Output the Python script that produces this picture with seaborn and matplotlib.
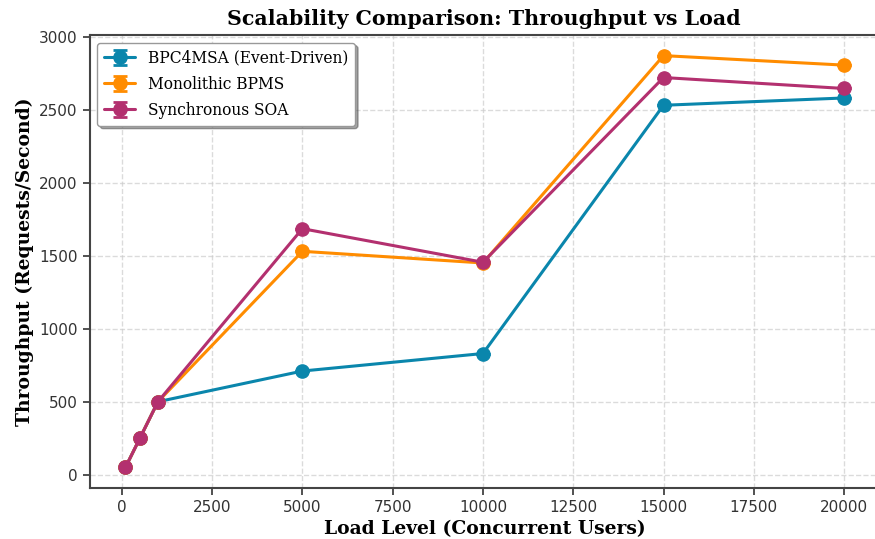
import numpy as np
import matplotlib
matplotlib.use("Agg")
import matplotlib.pyplot as plt
import seaborn as sns

# ── Data ──────────────────────────────────────────────────────────
load_levels = [100, 500, 1000, 5000, 10000, 15000, 20000]
bpc4msa     = [50, 250, 500, 710, 830, 2530, 2580]
monolithic  = [50, 250, 500, 1530, 1450, 2870, 2805]
sync_soa    = [50, 250, 500, 1685, 1455, 2720, 2645]

series_names  = ["BPC4MSA (Event-Driven)", "Monolithic BPMS", "Synchronous SOA"]
series_values = [bpc4msa, monolithic, sync_soa]
series_colors = ["#0A86AC", "#FF8C00", "#B3306F"]

# ── Style ─────────────────────────────────────────────────────────
sns.set_theme(style="ticks", rc={
    "axes.edgecolor": "#444444",
    "axes.linewidth": 1.5,
    "axes.labelcolor": "black",
    "text.color": "black",
    "grid.color": "#cccccc",
    "grid.linestyle": "--",
    "grid.alpha": 0.7,
    "xtick.color": "#333333",
    "ytick.color": "#333333",
    "xtick.major.size": 5,
    "ytick.major.size": 5,
    "xtick.major.width": 1.2,
    "ytick.major.width": 1.2,
})
plt.rcParams["font.family"] = ["DejaVu Serif"]

fig = plt.figure(figsize=(8.75, 5.39), dpi=100)
ax = fig.add_axes([0.1023, 0.0946, 0.9034, 0.8404])

for name, vals, color in zip(series_names, series_values, series_colors):
    ax.errorbar(load_levels, vals, yerr=np.zeros(len(vals)), label=name,
                color=color, marker="o", markersize=9.5, linewidth=2.2,
                capsize=5, capthick=2)

ax.grid(True)
ax.spines["right"].set_visible(False)
ax.tick_params(labelsize=11)
for lbl in ax.get_xticklabels() + ax.get_yticklabels():
    lbl.set_family("DejaVu Sans")

ax.set_xlabel("Load Level (Concurrent Users)", fontsize=13.5, fontweight="bold")
ax.set_ylabel("Throughput (Requests/Second)", fontsize=13.5, fontweight="bold")
fig.suptitle("Scalability Comparison: Throughput vs Load", fontsize=14.8,
             fontweight="bold", x=0.553, y=0.984)

leg = ax.legend(loc="upper left", fontsize=11.2, frameon=True, shadow=True,
                fancybox=True, framealpha=1.0, edgecolor="#999999",
                labelspacing=0.58, borderpad=0.45)

fig.savefig("out.png", dpi=100)
